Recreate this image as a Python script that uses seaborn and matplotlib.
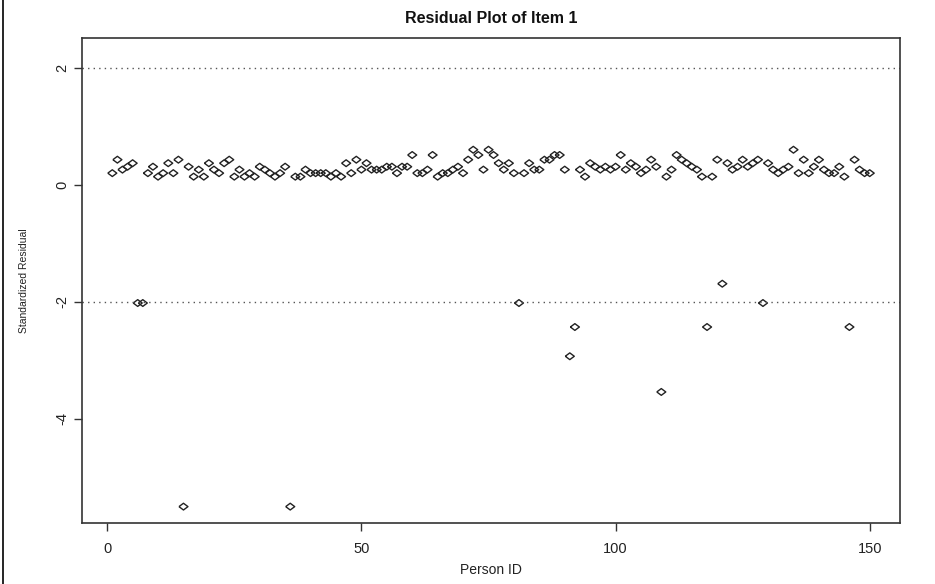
import numpy as np
import pandas as pd
import seaborn as sns
from matplotlib import pyplot as plt
from matplotlib.lines import Line2D

# person ids and standardized residuals
person_id = list(range(1, 151))
residual = [
    0.20, 0.43, 0.26, 0.31, 0.37, -2.02, -2.02, 0.20, 0.31, 0.14,
    0.20, 0.37, 0.20, 0.43, -5.50, 0.31, 0.14, 0.26, 0.14, 0.37,
    0.26, 0.20, 0.37, 0.43, 0.14, 0.26, 0.14, 0.20, 0.14, 0.31,
    0.26, 0.20, 0.14, 0.20, 0.31, -5.50, 0.14, 0.14, 0.26, 0.20,
    0.20, 0.20, 0.20, 0.14, 0.20, 0.14, 0.37, 0.20, 0.43, 0.26,
    0.37, 0.26, 0.26, 0.26, 0.31, 0.31, 0.20, 0.31, 0.31, 0.51,
    0.20, 0.20, 0.26, 0.51, 0.14, 0.20, 0.20, 0.26, 0.31, 0.20,
    0.43, 0.60, 0.51, 0.26, 0.60, 0.51, 0.37, 0.26, 0.37, 0.20,
    -2.02, 0.20, 0.37, 0.26, 0.26, 0.43, 0.43, 0.51, 0.51, 0.26,
    -2.93, -2.43, 0.26, 0.14, 0.37, 0.31, 0.26, 0.31, 0.26, 0.31,
    0.51, 0.26, 0.37, 0.31, 0.20, 0.26, 0.43, 0.31, -3.54, 0.14,
    0.26, 0.51, 0.43, 0.37, 0.31, 0.26, 0.14, -2.43, 0.14, 0.43,
    -1.69, 0.37, 0.26, 0.31, 0.43, 0.31, 0.37, 0.43, -2.02, 0.37,
    0.26, 0.20, 0.26, 0.31, 0.60, 0.20, 0.43, 0.20, 0.31, 0.43,
    0.26, 0.20, 0.20, 0.31, 0.14, -2.43, 0.43, 0.26, 0.20, 0.20,
]
cutoffs = [2, -2]
x_ticks = [0, 50, 100, 150]
y_ticks = [-4, -2, 0, 2]

df = pd.DataFrame({"person_id": person_id, "residual": residual})

sns.set_style("ticks")
plt.rcParams["font.family"] = ["Liberation Sans", "DejaVu Sans"]
plt.rcParams["axes.unicode_minus"] = False

fig = plt.figure(figsize=(9.35, 5.84), dpi=100)
ax = fig.add_axes([82 / 935, 1 - 523 / 584, 818 / 935, 485 / 584])

# flattened diamond, like the stretched R pch=5
diamond = [(-1, 0), (0, 0.75), (1, 0), (0, -0.75), (-1, 0)]
sns.scatterplot(data=df, x="person_id", y="residual", ax=ax, marker=diamond,
                s=42, facecolor="none", edgecolor="#222222", linewidth=1.0)

for c in cutoffs:
    ax.axhline(c, color="#555555", linestyle=(0, (1, 3)), linewidth=1.0)

ax.set_xlim(-4.96, 155.96)
ax.set_ylim(-5.78, 2.51)
ax.set_xticks(x_ticks)
ax.set_yticks(y_ticks)
ax.tick_params(axis="both", direction="out", length=6, width=1, color="#333333",
               labelsize=10.5, labelcolor="#222222")
ax.tick_params(axis="x", pad=8)
ax.tick_params(axis="y", pad=3)
for lbl in ax.get_yticklabels():
    lbl.set_rotation(90)
    lbl.set_va("center")
for sp in ax.spines.values():
    sp.set_visible(True)
    sp.set_color("#333333")
    sp.set_linewidth(1.2)

ax.set_xlabel("Person ID", fontsize=10, color="#222222", labelpad=5)
ax.set_ylabel("Standardized Residual", fontsize=7.5, color="#222222", labelpad=19)
ax.set_title("Residual Plot of Item 1", fontsize=11.5, fontweight="bold",
             color="#111111", pad=11)

# screenshot border on the left edge
fig.add_artist(Line2D([3 / 935, 3 / 935], [0, 1], transform=fig.transFigure,
                      color="black", linewidth=1.2))

fig.savefig("out.png", dpi=100)
